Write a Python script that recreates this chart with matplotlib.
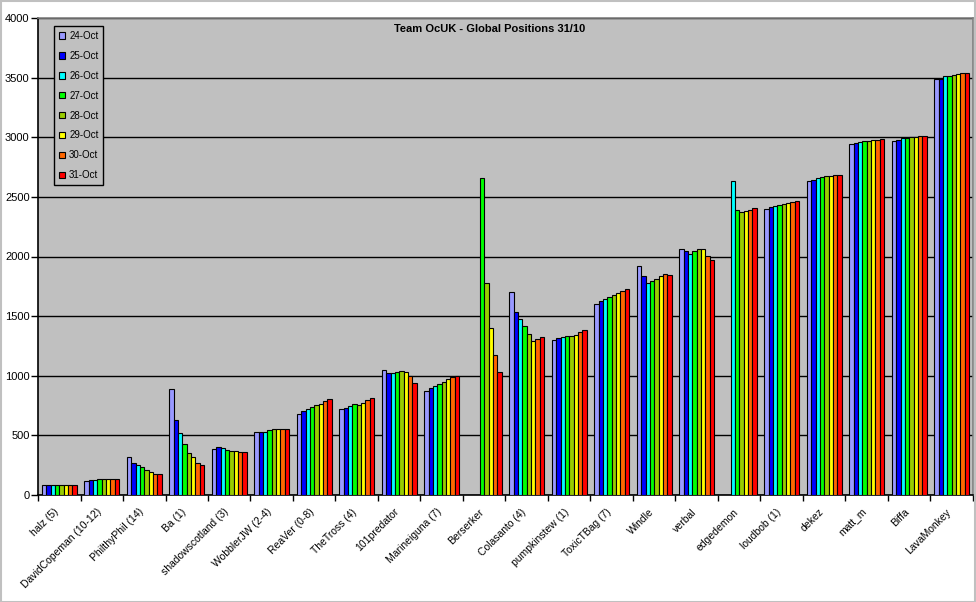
import numpy as np
import matplotlib
matplotlib.use("Agg")
import matplotlib.pyplot as plt
from matplotlib.patches import Rectangle
import matplotlib.transforms as mtransforms

plt.rcParams['font.family'] = ['Liberation Sans', 'DejaVu Sans']

players = ["halz (5)", "DavidCopeman (10-12)", "PhilthyPhil (14)", "Ba (1)",
           "shadowscotland (3)", "WobblerJW (2-4)", "ReaVer (0-8)", "TheTross (4)",
           "101predator", "Marineiguna (7)", "Berserker", "Colasanto (4)",
           "pumpkinstew (1)", "ToxicTBag (7)", "Windle", "verbal", "edgedemon",
           "loudbob (1)", "dekez", "matt_m", "Biffa", "LavaMonkey"]

dates = ["24-Oct", "25-Oct", "26-Oct", "27-Oct", "28-Oct", "29-Oct", "30-Oct", "31-Oct"]
colors = ["#9999FF", "#0000FF", "#00FFFF", "#00FF00", "#99CC00", "#FFFF00", "#FF6600", "#FF0000"]

nan = np.nan
oct24 = [80, 115, 315, 886, 383, 525, 676, 718, 1045, 869, nan, 1699, 1297, 1599, 1917, 2060, nan, 2395, 2630, 2940, 2965, 3490]
oct25 = [80, 122, 265, 626, 400, 525, 701, 727, 1020, 894, nan, 1531, 1313, 1624, 1833, 2043, nan, 2412, 2638, 2948, 2973, 3490]
oct26 = [80, 122, 250, 517, 391, 525, 718, 743, 1020, 911, nan, 1473, 1322, 1641, 1775, 2018, 2630, 2420, 2655, 2956, 2990, 3510]
oct27 = [88, 130, 232, 425, 375, 542, 735, 760, 1028, 928, 2655, 1414, 1330, 1658, 1791, 2043, 2387, 2429, 2663, 2965, 2990, 3510]
oct28 = [88, 130, 207, 349, 366, 551, 752, 752, 1037, 945, 1775, 1347, 1330, 1674, 1808, 2060, 2370, 2437, 2672, 2965, 2998, 3518]
oct29 = [88, 130, 190, 316, 366, 551, 760, 768, 1028, 970, 1397, 1288, 1339, 1691, 1833, 2060, 2378, 2445, 2672, 2973, 2998, 3527]
oct30 = [88, 130, 173, 266, 358, 551, 785, 794, 995, 987, 1173, 1305, 1364, 1708, 1850, 2001, 2387, 2454, 2680, 2973, 3007, 3535]
oct31 = [88, 130, 173, 249, 358, 551, 802, 810, 936, 995, 1031, 1322, 1381, 1725, 1842, 1967, 2404, 2462, 2680, 2982, 3007, 3535]
series = [oct24, oct25, oct26, oct27, oct28, oct29, oct30, oct31]

W, H = 976, 602
fig = plt.figure(figsize=(W / 100, H / 100), dpi=100)
fig.patch.set_facecolor("white")
fig.patches.append(Rectangle((0.5 / W, 0.5 / H), 1 - 1.5 / W, 1 - 1.5 / H,
                             transform=fig.transFigure, fill=False,
                             edgecolor="#C0C0C0", linewidth=1.5))

left, right, top, bottom = 38, 973, 18, 495
ax = fig.add_axes([left / W, 1 - bottom / H, (right - left) / W, (bottom - top) / H])
ax.set_facecolor("#C0C0C0")

n = len(players)
x = np.arange(n)
bw = 0.82 / 8
for i, (vals, c, d) in enumerate(zip(series, colors, dates)):
    ax.bar(x - 0.41 + bw * (i + 0.5), vals, width=bw, color=c, edgecolor="black",
           linewidth=0.8, label=d, zorder=3)

ax.set_xlim(-0.5, n - 0.5)
ax.set_ylim(0, 4000)
ax.set_yticks(np.arange(0, 4001, 500))
ax.yaxis.grid(True, color="black", linewidth=1.0, zorder=0)
ax.set_axisbelow(True)

ax.set_xticks(np.arange(-0.5, n, 1))
ax.set_xticklabels([])
ax.set_xticks(x, minor=True)
ax.set_xticklabels(players, minor=True, rotation=45, ha="right", va="center",
                   rotation_mode="anchor", fontsize=7.5)
ax.tick_params(axis="x", which="major", length=4, width=1, direction="out", color="black")
ax.tick_params(axis="x", which="minor", length=0, pad=11)
offset = mtransforms.ScaledTranslation(-2 / 100, 0, fig.dpi_scale_trans)
for lab in ax.get_xticklabels(minor=True):
    lab.set_transform(lab.get_transform() + offset)
ax.tick_params(axis="y", length=5, width=1, direction="out", labelsize=8, pad=1)

for s in ["left", "bottom"]:
    ax.spines[s].set_color("black")
    ax.spines[s].set_linewidth(1.2)
for s in ["top", "right"]:
    ax.spines[s].set_color("#808080")
    ax.spines[s].set_linewidth(1.2)

fig.text(490 / W, 1 - 29 / H, "Team OcUK - Global Positions 31/10", ha="center",
         va="center", fontsize=8, fontweight="bold")

leg = ax.legend(loc="upper left", bbox_to_anchor=(54 / W, 1 - 26 / H),
                bbox_transform=fig.transFigure, fontsize=7, frameon=True,
                fancybox=False, facecolor="#C0C0C0", edgecolor="black",
                handlelength=0.65, handleheight=0.65, handletextpad=0.4,
                labelspacing=1.02, borderpad=0.5, borderaxespad=0)
leg.get_frame().set_linewidth(1.0)
leg.get_frame().set_alpha(None)

fig.savefig("out.png", dpi=100, facecolor="white")
